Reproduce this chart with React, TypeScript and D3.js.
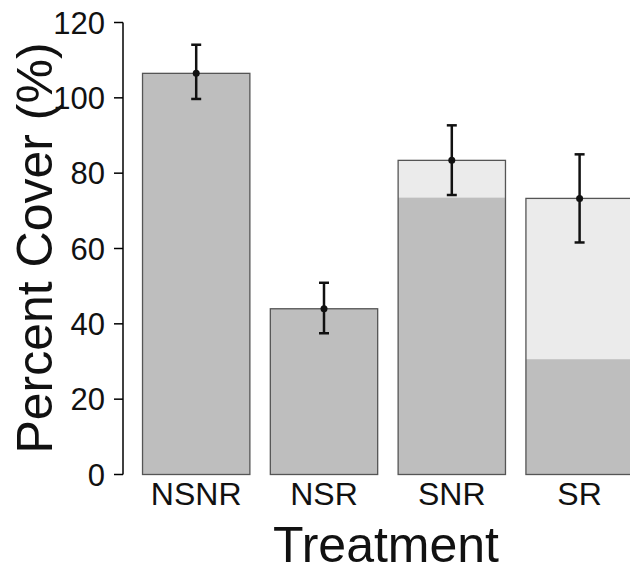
import * as d3 from "d3";

const categories = ["NSNR", "NSR", "SNR", "SR"];
const totalCover = [106.5, 44, 83.4, 73.3];
const baseCover = [106.5, 44, 73.5, 30.6];
const errUpper = [114.1, 50.9, 92.7, 85];
const errLower = [99.7, 37.5, 74.2, 61.6];
const yTicks = [0, 20, 40, 60, 80, 100, 120];

const W = 630;
const H = 572;

export default function App() {
  const y = d3.scaleLinear().domain([0, 120]).range([474.5, 22.5]);
  const x = d3
    .scaleBand<string>()
    .domain(categories)
    .range([132.3, 643.5])
    .paddingInner(0.16)
    .paddingOuter(0.08);
  const bw = x.bandwidth();
  const axisX = 123;
  const font = "'Liberation Sans', Arial, sans-serif";

  return (
    <svg
      width={W}
      height={H}
      style={{ position: "absolute", left: 0, top: 0, background: "#fff" }}
      fontFamily={font}
    >
      {/* bars: light total, dark base on top */}
      {categories.map((c, i) => (
        <g key={c}>
          <rect
            x={x(c)}
            y={y(totalCover[i])}
            width={bw}
            height={y(0) - y(totalCover[i])}
            fill="#ebebeb"
          />
          <rect
            x={x(c)}
            y={y(baseCover[i])}
            width={bw}
            height={y(0) - y(baseCover[i])}
            fill="#bebebe"
          />
          <rect
            x={x(c)}
            y={y(totalCover[i])}
            width={bw}
            height={y(0) - y(totalCover[i])}
            fill="none"
            stroke="#555"
            strokeWidth={1.3}
          />
        </g>
      ))}

      {/* error bars */}
      {categories.map((c, i) => {
        const cx = (x(c) ?? 0) + bw / 2;
        return (
          <g key={c + "-err"} stroke="#111" strokeWidth={2.5}>
            <line x1={cx} x2={cx} y1={y(errUpper[i])} y2={y(errLower[i])} />
            <line x1={cx - 5} x2={cx + 5} y1={y(errUpper[i])} y2={y(errUpper[i])} />
            <line x1={cx - 5} x2={cx + 5} y1={y(errLower[i])} y2={y(errLower[i])} />
            <circle cx={cx} cy={y(totalCover[i])} r={3.5} fill="#111" stroke="none" />
          </g>
        );
      })}

      {/* y axis */}
      <line x1={axisX} x2={axisX} y1={y(120)} y2={y(0)} stroke="#000" strokeWidth={1.5} />
      {yTicks.map((t) => (
        <g key={t}>
          <line x1={axisX - 9} x2={axisX} y1={y(t)} y2={y(t)} stroke="#000" strokeWidth={1.5} />
          <text
            x={axisX - 18}
            y={y(t)}
            dy="0.36em"
            textAnchor="end"
            fontSize={31}
            fill="#111"
          >
            {t}
          </text>
        </g>
      ))}

      {/* x tick labels */}
      {categories.map((c) => (
        <text
          key={c + "-lab"}
          x={(x(c) ?? 0) + bw / 2}
          y={505}
          textAnchor="middle"
          fontSize={32}
          fill="#111"
        >
          {c}
        </text>
      ))}

      {/* axis titles */}
      <text x={386} y={562} textAnchor="middle" fontSize={50} fill="#111">
        Treatment
      </text>
      <text
        transform="translate(52,248) rotate(-90)"
        textAnchor="middle"
        fontSize={50}
        fill="#111"
      >
        Percent Cover (%)
      </text>
    </svg>
  );
}
